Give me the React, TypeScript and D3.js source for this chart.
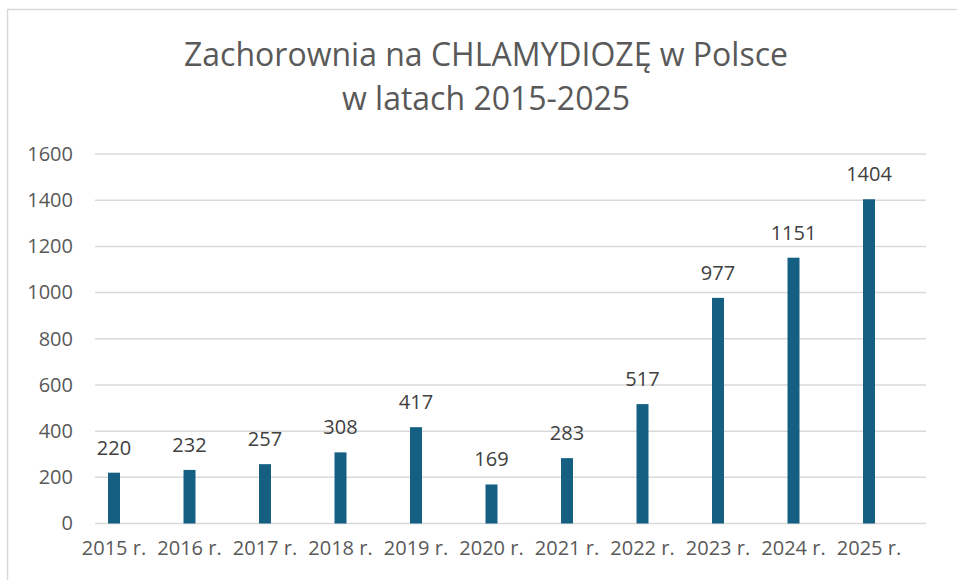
import React, { useEffect, useRef } from 'react';
import * as d3 from 'd3';

const years = ["2015 r.", "2016 r.", "2017 r.", "2018 r.", "2019 r.", "2020 r.", "2021 r.", "2022 r.", "2023 r.", "2024 r.", "2025 r."];
const cases = [220, 232, 257, 308, 417, 169, 283, 517, 977, 1151, 1404];
const yTicks = [0, 200, 400, 600, 800, 1000, 1200, 1400, 1600];
const titleLines = ["Zachorownia na CHLAMYDIOZĘ w Polsce", "w latach 2015-2025"];

const W = 957;
const H = 580;
const FONT = "'Open Sans', 'Liberation Sans', sans-serif";
const TEXT = "#595959";

const App = () => {
    const ref = useRef<SVGSVGElement>(null);

    useEffect(() => {
        const svg = d3.select(ref.current);
        svg.selectAll("*").remove();

        // chart frame
        svg.append("rect")
            .attr("x", 7.5).attr("y", 9.5)
            .attr("width", W + 10).attr("height", H + 10)
            .attr("fill", "#fff")
            .attr("stroke", "#d9d9d9")
            .attr("stroke-width", 1.5);

        svg.append("g")
            .selectAll("text")
            .data(titleLines)
            .enter().append("text")
            .attr("x", 486)
            .attr("y", (d, i) => 66 + i * 44)
            .attr("text-anchor", "middle")
            .attr("font-family", FONT)
            .attr("font-size", 32)
            .attr("fill", TEXT)
            .text((d) => d);

        const y = d3.scaleLinear().domain([0, 1600]).range([523.5, 154]);
        const gridX0 = 95;
        const gridX1 = 926;

        const x = d3.scaleBand()
            .domain(years)
            .range([76.25, 906.75]);

        const grid = svg.append("g");
        grid.selectAll("line")
            .data(yTicks)
            .enter().append("line")
            .attr("x1", gridX0).attr("x2", gridX1)
            .attr("y1", (d) => y(d)).attr("y2", (d) => y(d))
            .attr("stroke", "#d9d9d9")
            .attr("stroke-width", 1.5);

        const yAxis = d3.axisLeft(y).tickValues(yTicks).tickFormat(d3.format("d")).tickSize(0).tickPadding(0);
        const gy = svg.append("g")
            .attr("transform", "translate(73,0)")
            .call(yAxis);
        gy.select(".domain").remove();
        gy.selectAll("text")
            .attr("font-family", FONT)
            .attr("font-size", 20)
            .attr("fill", TEXT);

        const xAxis = d3.axisBottom(x).tickSize(0).tickPadding(0);
        const gx = svg.append("g")
            .attr("transform", "translate(0,541)")
            .call(xAxis);
        gx.select(".domain").remove();
        gx.selectAll("text")
            .attr("font-family", FONT)
            .attr("font-size", 20)
            .attr("fill", TEXT);

        const barW = 12;
        const bars = svg.append("g");
        bars.selectAll("rect")
            .data(cases)
            .enter().append("rect")
            .attr("x", (d, i) => (x(years[i]) as number) + x.bandwidth() / 2 - barW / 2)
            .attr("y", (d) => y(d))
            .attr("width", barW)
            .attr("height", (d) => y(0) - y(d))
            .attr("fill", "#156082");

        bars.selectAll("text")
            .data(cases)
            .enter().append("text")
            .attr("x", (d, i) => (x(years[i]) as number) + x.bandwidth() / 2)
            .attr("y", (d) => y(d) - 18)
            .attr("text-anchor", "middle")
            .attr("font-family", FONT)
            .attr("font-size", 20)
            .attr("fill", "#404040")
            .text((d) => d);
    }, []);

    return (
        <svg ref={ref} width={W} height={H} style={{ position: "absolute", left: 0, top: 0 }}>
        </svg>
    );
};

export default App;
